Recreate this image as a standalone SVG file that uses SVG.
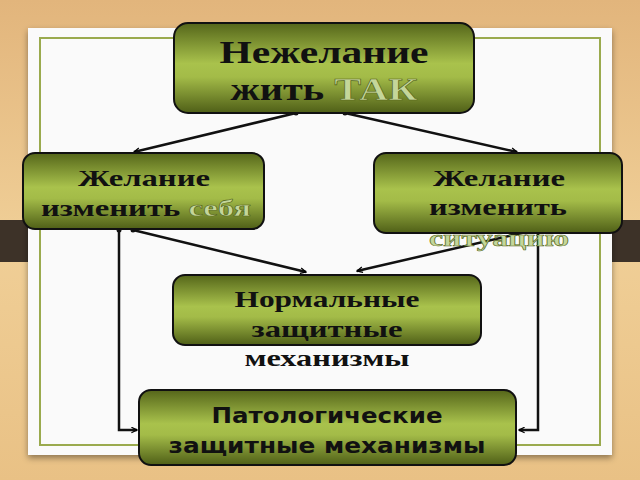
<svg xmlns="http://www.w3.org/2000/svg" width="640" height="480" viewBox="0 0 640 480">
<defs>
<linearGradient id="bg" x1="0" y1="0" x2="0" y2="1">
<stop offset="0" stop-color="#e2b57c"/><stop offset="0.5" stop-color="#f0cf97"/><stop offset="1" stop-color="#e9c185"/>
</linearGradient>
<linearGradient id="g" x1="0" y1="0" x2="0" y2="1">
<stop offset="0" stop-color="#55661a"/><stop offset="0.45" stop-color="#a9c24c"/><stop offset="0.6" stop-color="#a3bb48"/><stop offset="1" stop-color="#4f5f17"/>
</linearGradient>
<marker id="a" viewBox="0 0 10 10" refX="9" refY="5" markerWidth="7" markerHeight="7" orient="auto" markerUnits="userSpaceOnUse">
<path d="M1,1 L9,5 L1,9" fill="none" stroke="#000" stroke-width="1.8"/>
</marker>
<filter id="sh" x="-10%" y="-10%" width="120%" height="130%"><feDropShadow dx="0" dy="3" stdDeviation="3" flood-opacity="0.4"/></filter>
</defs>
<style>
.n{fill:url(#g);stroke:#111;stroke-width:2}
.t{font-family:"Liberation Serif",serif;font-weight:bold;fill:#111;text-anchor:middle}
.s{font-family:"DejaVu Sans",sans-serif;font-weight:bold;fill:#111;text-anchor:middle;font-size:21px}
.hl{fill:#c4d69a;stroke:#55661a;stroke-width:0.6}
.c{fill:none;stroke:#111;stroke-width:2.5;marker-end:url(#a)}
</style>
<rect width="640" height="480" fill="url(#bg)"/>
<rect x="0" y="220" width="640" height="42" fill="#3d3228"/>
<rect x="28" y="28" width="584" height="427" fill="#fafafa" filter="url(#sh)"/>
<rect x="40" y="38" width="560" height="407" fill="none" stroke="#9aaa4e" stroke-width="2"/>
<g id="connectors">
<path class="c" d="M296,113 L134,152"/>
<path class="c" d="M345,113 L517,152"/>
<path class="c" d="M133,230 L306,272"/>
<path class="c" d="M526,232 L357,271"/>
<path class="c" d="M119,230 L119,430 L137,430"/>
<path class="c" d="M538,232 L538,430 L519,430"/>
<g fill="#111"><circle cx="296" cy="113" r="2.5"/><circle cx="345" cy="113" r="2.5"/><circle cx="133" cy="230" r="2.5"/><circle cx="119" cy="230" r="2.5"/><circle cx="526" cy="232" r="2.5"/><circle cx="538" cy="232" r="2.5"/></g>
</g>
<g id="top">
<rect class="n" x="174" y="23" width="300" height="90" rx="14"/>
<text class="t" x="324" y="63" font-size="32" textLength="209" lengthAdjust="spacingAndGlyphs">Нежелание</text>
<text class="t" x="324" y="100" font-size="32" textLength="187" lengthAdjust="spacingAndGlyphs">жить <tspan class="hl">ТАК</tspan></text>
</g>
<g id="left">
<rect class="n" x="23" y="153" width="241" height="76" rx="12"/>
<text class="t" x="144" y="186" font-size="24" textLength="132" lengthAdjust="spacingAndGlyphs">Желание</text>
<text class="t" x="146" y="216" font-size="24" textLength="210" lengthAdjust="spacingAndGlyphs">изменить <tspan class="hl">себя</tspan></text>
</g>
<g id="right">
<rect class="n" x="374" y="153" width="248" height="80" rx="12"/>
<text class="t" x="499" y="186" font-size="24" textLength="132" lengthAdjust="spacingAndGlyphs">Желание</text>
<text class="t" x="498" y="215" font-size="24" textLength="138" lengthAdjust="spacingAndGlyphs">изменить</text>
<text class="t hl" x="499" y="246" font-size="24" textLength="140" lengthAdjust="spacingAndGlyphs">ситуацию</text>
</g>
<g id="normal">
<rect class="n" x="173" y="275" width="308" height="70" rx="12"/>
<text class="t" x="327" y="307" font-size="23" textLength="185" lengthAdjust="spacingAndGlyphs">Нормальные</text>
<text class="t" x="327" y="337" font-size="23" textLength="151" lengthAdjust="spacingAndGlyphs">защитные</text>
<text class="t" x="327" y="366" font-size="23" textLength="165" lengthAdjust="spacingAndGlyphs">механизмы</text>
</g>
<g id="patho">
<rect class="n" x="139" y="390" width="377" height="75" rx="12"/>
<text class="s" x="327" y="423" textLength="231" lengthAdjust="spacingAndGlyphs">Патологические</text>
<text class="s" x="327" y="453" textLength="317" lengthAdjust="spacingAndGlyphs">защитные механизмы</text>
</g>
</svg>
